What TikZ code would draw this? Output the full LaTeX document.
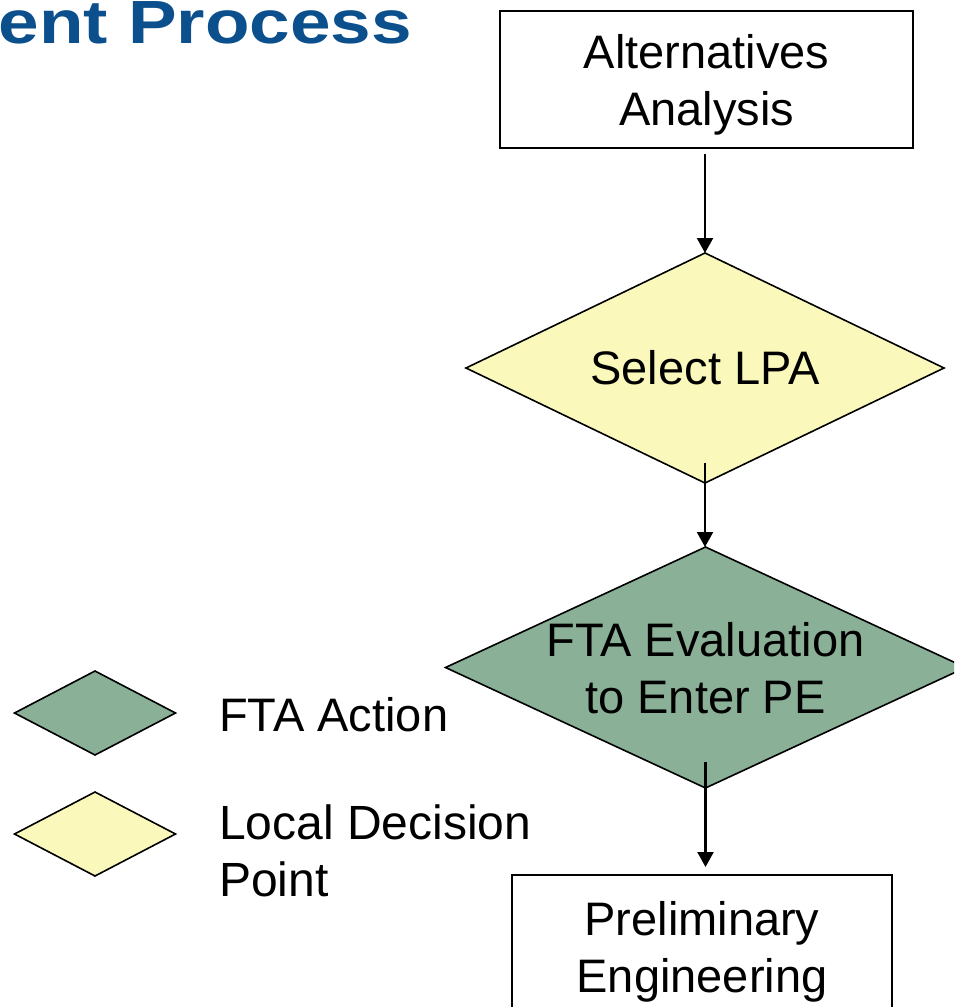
\documentclass[tikz,border=0pt]{standalone}
\usepackage{fontspec}
\setmainfont{Liberation Sans}
\usepackage{graphicx}
\usetikzlibrary{shapes.geometric,arrows.meta}
\definecolor{titleblue}{RGB}{11,79,140}
\definecolor{ftagreen}{RGB}{138,176,152}
\definecolor{lpayellow}{RGB}{250,248,186}
\tikzset{
  procbox/.style={draw=black, line width=1.9pt, fill=white, inner sep=0pt, outer sep=0pt},
  dmd/.style={diamond, draw=black, line width=1.6pt, inner sep=0pt, outer sep=0pt},
  yellowdmd/.style={dmd, fill=lpayellow},
  greendmd/.style={dmd, fill=ftagreen},
  txt/.style={font=\fontsize{47}{57}\selectfont, align=center, inner sep=0pt},
  arr/.style={draw=black, line width=2.2pt, -{Triangle[length=15pt,width=16pt]}},
}
\begin{document}
\begin{tikzpicture}[x=1pt,y=-1pt]
\clip (0,0) rectangle (954,1007);
% title
\node[anchor=base east, inner sep=0pt, text=titleblue,
      font=\fontsize{61}{72}\bfseries\selectfont] (title) at (412,43)
      {\scalebox{1.195}[1]{ent Process}};
% flow
\node[procbox, minimum width=413pt, minimum height=137pt] (alt) at (706.5,79.5) {};
\node[txt] (alttext) at ([yshift=-5pt]alt.center) {Alternatives\\Analysis};
\node[yellowdmd, minimum width=478pt, minimum height=230pt] (lpa) at (705,368) {};
\node[txt] (lpatext) at (lpa.center) {Select LPA};
\node[greendmd, minimum width=520pt, minimum height=241pt] (fta) at (705.5,667.5) {};
\node[txt] (ftatext) at ([yshift=-1pt]fta.center) {FTA Evaluation\\to Enter PE};
\node[procbox, minimum width=380pt, minimum height=150pt] (pe) at (702,950) {};
\node[txt] (petext) at ([yshift=-1.6pt]pe.center) {Preliminary\\Engineering};
% connectors
\draw[arr] ([yshift=-6pt]alt.south -| lpa.north) -- (lpa.north);
\draw[arr] ([yshift=20pt]lpa.south) -- (lpa.south |- fta.north);
\draw[arr] ([yshift=26pt]fta.south) -- ([yshift=8pt]pe.north -| fta.south);
% legend
\node[greendmd, minimum width=161pt, minimum height=84pt] (leg1) at (95,713) {};
\node[txt, anchor=base west] (leg1text) at (219,731) {FTA Action};
\node[yellowdmd, minimum width=161pt, minimum height=84pt] (leg2) at (95,834) {};
\node[txt, align=left, anchor=west, font=\fontsize{48}{57}\selectfont] (leg2text) at (219,850.6) {Local Decision\\Point};
\end{tikzpicture}
\end{document}
